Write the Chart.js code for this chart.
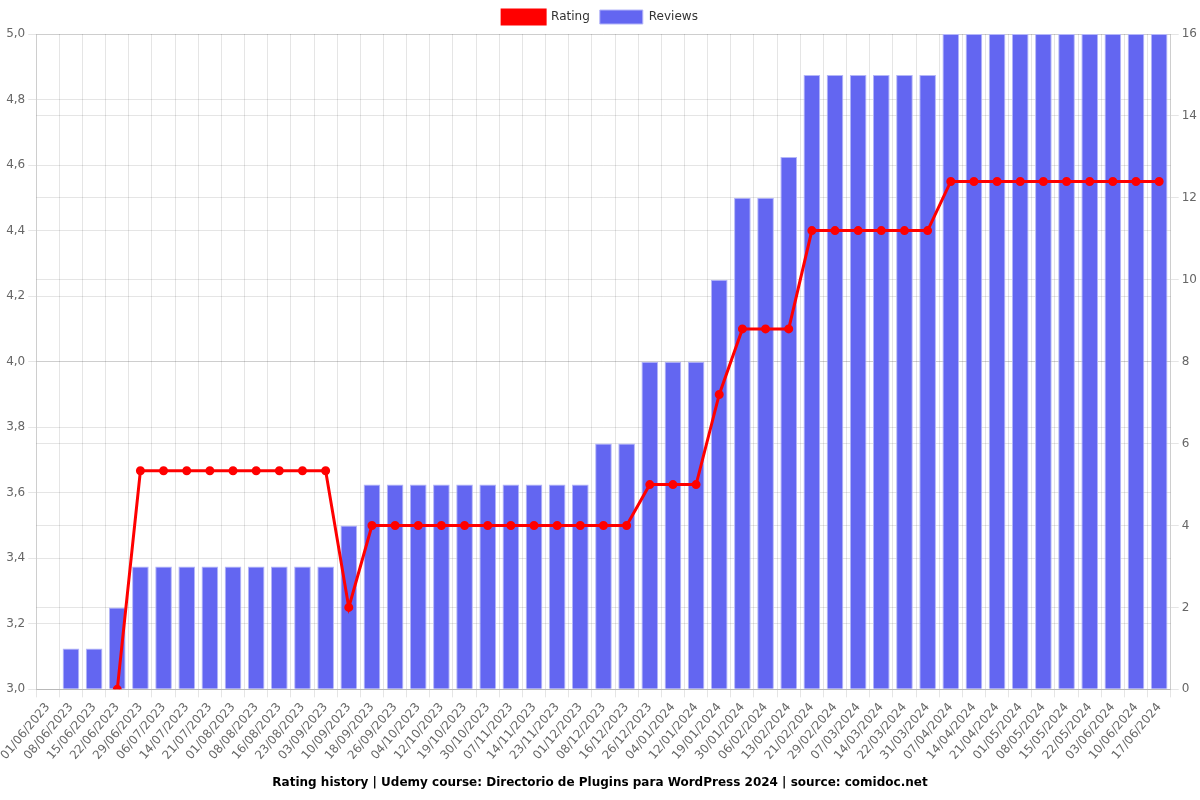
<!DOCTYPE html>
<html>
<head>
<meta charset="utf-8">
<script src="https://cdn.jsdelivr.net/npm/chart.js@4/dist/chart.umd.min.js"></script>
<style>
  html, body { margin: 0; padding: 0; background: #fff; }
  #wrap { width: 1200px; height: 800px; }
</style>
</head>
<body>
<div id="wrap"><canvas id="ratingChart"></canvas></div>
<script>
var dates = ["01/06/2023","08/06/2023","15/06/2023","22/06/2023","29/06/2023","06/07/2023","14/07/2023",
  "21/07/2023","01/08/2023","08/08/2023","16/08/2023","23/08/2023","03/09/2023","10/09/2023","18/09/2023",
  "26/09/2023","04/10/2023","12/10/2023","19/10/2023","30/10/2023","07/11/2023","14/11/2023","23/11/2023",
  "01/12/2023","08/12/2023","16/12/2023","26/12/2023","04/01/2024","12/01/2024","19/01/2024","30/01/2024",
  "06/02/2024","13/02/2024","21/02/2024","29/02/2024","07/03/2024","14/03/2024","22/03/2024","31/03/2024",
  "07/04/2024","14/04/2024","21/04/2024","01/05/2024","08/05/2024","15/05/2024","22/05/2024","03/06/2024",
  "10/06/2024","17/06/2024"];

var ratings = [null, null, null, 3.0, 3.667, 3.667, 3.667, 3.667, 3.667, 3.667, 3.667, 3.667, 3.667,
  3.25, 3.5, 3.5, 3.5, 3.5, 3.5, 3.5, 3.5, 3.5, 3.5, 3.5, 3.5, 3.5,
  3.625, 3.625, 3.625, 3.9, 4.1, 4.1, 4.1,
  4.4, 4.4, 4.4, 4.4, 4.4, 4.4,
  4.55, 4.55, 4.55, 4.55, 4.55, 4.55, 4.55, 4.55, 4.55, 4.55];

var reviews = [0, 1, 1, 2, 3, 3, 3, 3, 3, 3, 3, 3, 3,
  4, 5, 5, 5, 5, 5, 5, 5, 5, 5, 5, 6, 6,
  8, 8, 8, 10, 12, 12, 13,
  15, 15, 15, 15, 15, 15,
  16, 16, 16, 16, 16, 16, 16, 16, 16, 16];

var commaFmt = function(v) { return v.toFixed(1).replace(".", ","); };

Chart.defaults.font.family = "'DejaVu Sans', sans-serif";
Chart.defaults.color = "#666";

var ctx = document.getElementById("ratingChart");
var myChart = new Chart(ctx, {
  type: "bar",
  data: {
    labels: dates,
    datasets: [{
      type: "line",
      label: "Rating",
      data: ratings,
      yAxisID: "y",
      borderColor: "#FF0000",
      backgroundColor: "#FF0000",
      borderWidth: 3,
      pointRadius: 3,
      pointHoverRadius: 4,
      lineTension: 0,
      fill: false,
      order: 0
    },
    {
      label: "Reviews",
      data: reviews,
      yAxisID: "y1",
      backgroundColor: "rgb(99, 102, 241)",
      borderColor: "rgba(180, 182, 248, 1)",
      borderWidth: 1,
      order: 1
    }]
  },
  options: {
    responsive: true,
    maintainAspectRatio: false,
    animation: false,
    plugins: {
      legend: {position: "top", labels: {boxWidth: 43, boxHeight: 14, color: "#333", font: {size: 12}}},
      title: {display: true, position: "bottom", text: "Rating history | Udemy course: Directorio de Plugins para WordPress 2024 | source: comidoc.net",
        color: "#000", font: {size: 12, weight: "bold"}, padding: {top: 10, bottom: 10}}
    },
    scales: {
      x: {
        ticks: {autoSkip: false, maxRotation: 50, minRotation: 50, font: {size: 12}},
        grid: {color: "rgba(0,0,0,0.1)"}
      },
      y: {
        position: "left",
        min: 3.0,
        max: 5.0,
        ticks: {stepSize: 0.2, callback: commaFmt, font: {size: 12}},
        grid: {color: "rgba(0,0,0,0.1)"}
      },
      y1: {
        position: "right",
        min: 0,
        max: 16,
        ticks: {stepSize: 2, font: {size: 12}},
        grid: {color: "rgba(0,0,0,0.1)"}
      }
    }
  }
});
</script>
</body>
</html>
